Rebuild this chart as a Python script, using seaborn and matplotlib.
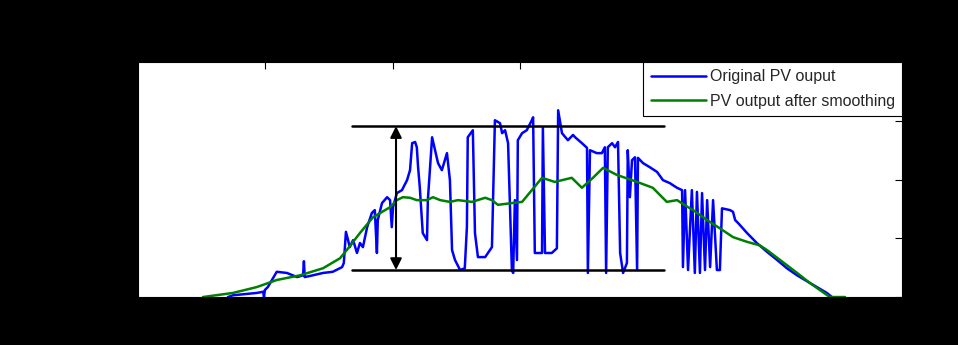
import pandas as pd
import matplotlib
matplotlib.use("Agg")
import matplotlib.pyplot as plt
import seaborn as sns

# PV output over one day (hours, kW)
orig_hours = [5.12, 5.24, 5.80, 5.95, 5.97, 5.99, 6.06, 6.18, 6.27, 6.51, 6.58, 6.75, 6.89, 6.91, 6.93,
              7.12, 7.36, 7.59, 7.81, 7.85, 7.90, 7.95, 7.99, 8.07, 8.16, 8.23, 8.30, 8.40, 8.51, 8.58,
              8.63, 8.65, 8.75, 8.87, 8.94, 8.98, 9.01, 9.10, 9.22, 9.34, 9.41, 9.46, 9.53, 9.57, 9.60,
              9.64, 9.71, 9.81, 9.83, 9.93, 10.00, 10.07, 10.16, 10.28, 10.35, 10.40, 10.47, 10.59, 10.70,
              10.75, 10.77, 10.89, 10.94, 11.01, 11.18, 11.34, 11.41, 11.53, 11.58, 11.65, 11.72, 11.81,
              11.84, 11.88, 11.93, 11.95, 12.05, 12.16, 12.28, 12.31, 12.35, 12.52, 12.54, 12.59, 12.75,
              12.87, 12.90, 12.99, 13.13, 13.25, 13.30, 13.46, 13.58, 13.60, 13.65, 13.81, 13.93, 14.00,
              14.03, 14.07, 14.17, 14.24, 14.31, 14.36, 14.43, 14.52, 14.54, 14.59, 14.64, 14.71, 14.76,
              14.78, 14.90, 15.06, 15.23, 15.37, 15.53, 15.70, 15.82, 15.84, 15.89, 15.96, 16.05, 16.12,
              16.17, 16.24, 16.29, 16.36, 16.41, 16.48, 16.55, 16.64, 16.71, 16.76, 16.95, 17.02, 17.07,
              17.14, 17.35, 17.58, 17.82, 18.06, 18.29, 18.53, 18.83, 19.23, 19.35]
orig_kw = [0.00, 0.03, 0.07, 0.09, 0.00, 0.12, 0.17, 0.32, 0.43, 0.41, 0.39, 0.34, 0.37, 0.61, 0.34,
           0.37, 0.41, 0.43, 0.51, 0.58, 1.11, 0.97, 0.85, 0.97, 0.75, 0.92, 0.85, 1.19, 1.43, 1.48,
           0.75, 1.31, 1.60, 1.70, 1.65, 1.19, 1.53, 1.77, 1.82, 1.99, 2.16, 2.62, 2.64, 2.55, 2.21,
           1.87, 1.09, 0.97, 1.65, 2.72, 2.50, 2.28, 2.16, 2.45, 1.99, 0.80, 0.63, 0.46, 0.49,
           1.19, 2.72, 2.84, 1.09, 0.68, 0.68, 0.85, 3.01, 2.96, 2.79, 2.84, 2.62, 0.46,
           0.41, 1.65, 0.63, 2.67, 2.79, 2.84, 3.01, 3.06, 0.75, 0.75, 2.89, 0.75, 0.75,
           0.83, 3.18, 2.79, 2.67, 2.76, 2.72, 2.62, 2.54, 0.41, 2.50, 2.45, 2.45, 2.55,
           0.41, 2.55, 2.62, 2.55, 2.64, 0.75, 0.41, 0.58, 2.50, 1.70, 2.33, 2.38, 0.46,
           2.37, 2.28, 2.21, 2.13, 1.99, 1.94, 1.86, 1.82, 0.51, 1.82, 0.46, 1.82, 0.41,
           1.79, 0.41, 1.77, 0.46, 1.65, 0.51, 1.65, 0.46, 0.46, 1.51, 1.48, 1.45, 1.31,
           1.26, 1.09, 0.92, 0.77, 0.63, 0.49, 0.37, 0.24, 0.07, 0.00]

smooth_hours = [4.53, 5.24, 5.80, 6.27, 6.82, 7.36, 7.76, 7.92, 8.23, 8.54, 8.94, 9.10, 9.24, 9.41,
                9.57, 9.81, 9.95, 10.12, 10.35, 10.54, 10.87, 11.18, 11.34, 11.48, 11.81, 12.05, 12.28,
                12.52, 12.82, 13.22, 13.46, 13.72, 13.96, 14.28, 14.76, 15.13, 15.46, 15.70, 15.96,
                16.08, 16.41, 16.71, 17.02, 17.35, 17.65, 17.82, 18.13, 18.53, 18.83, 19.30, 19.66]
smooth_kw = [0.00, 0.07, 0.17, 0.29, 0.37, 0.49, 0.66, 0.80, 1.09, 1.36, 1.53, 1.65, 1.70, 1.69,
             1.65, 1.65, 1.70, 1.65, 1.62, 1.65, 1.62, 1.69, 1.65, 1.57, 1.60, 1.62, 1.82,
             2.03, 1.96, 2.03, 1.86, 2.03, 2.20, 2.08, 1.96, 1.86, 1.62, 1.65, 1.53,
             1.48, 1.31, 1.17, 1.02, 0.94, 0.88, 0.80, 0.63, 0.41, 0.24, 0.00, 0.00]

# fluctuation band marked on the chart
band_start, band_end = 8.04, 15.39
band_low, band_high = 0.46, 2.91
arrow_at = 9.08

orig = pd.DataFrame({"Hour": orig_hours, "kW": orig_kw})
smooth = pd.DataFrame({"Hour": smooth_hours, "kW": smooth_kw})

sns.set_style("white")
plt.rcParams['font.family'] = ['Liberation Sans', 'DejaVu Sans']

fig = plt.figure(figsize=(9.58, 3.45), dpi=100, facecolor='black')
ax = fig.add_axes([0.144, 0.139, 0.7975, 0.681])
ax.set_facecolor('white')

sns.lineplot(data=orig, x="Hour", y="kW", ax=ax, color=(0, 0, 1), lw=1.8,
             sort=False, estimator=None, label="Original PV ouput")
sns.lineplot(data=smooth, x="Hour", y="kW", ax=ax, color=(0, 0.5, 0), lw=1.8,
             sort=False, estimator=None, label="PV output after smoothing")

# band lines and double arrow
ax.plot([band_start, band_end], [band_high, band_high], color='black', lw=1.8)
ax.plot([band_start, band_end], [band_low, band_low], color='black', lw=1.8)
ax.annotate("", xy=(arrow_at, band_high), xytext=(arrow_at, band_low),
            arrowprops=dict(arrowstyle='<|-|>', color='black', lw=1.5,
                            mutation_scale=17, shrinkA=0, shrinkB=0))

ax.set_xlim(3, 21)
ax.set_ylim(0, 4)
ax.set_xticks([6, 9, 12, 15, 18])
ax.set_yticks([0, 1, 2, 3, 4])
ax.set_xlabel("")
ax.set_ylabel("")
ax.tick_params(direction='in', length=5, top=True, right=True, color='black',
               labelcolor='black', labelsize=10)
for s in ax.spines.values():
    s.set_color('black')

leg = ax.legend(loc='upper right', borderaxespad=0, fontsize=11.5, handlelength=3.5,
                handletextpad=0.2, labelspacing=0.6, borderpad=0.45,
                frameon=True, fancybox=False, framealpha=1, edgecolor='black')
leg.get_frame().set_linewidth(0.8)

fig.savefig("out.png", dpi=100, facecolor='black')
